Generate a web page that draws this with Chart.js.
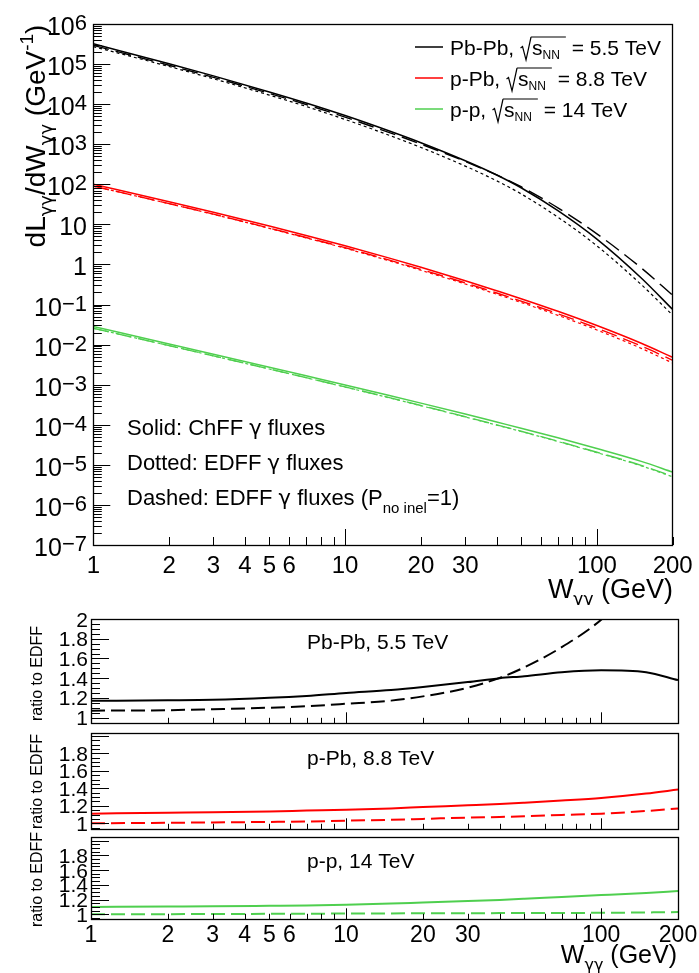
<!DOCTYPE html>
<html>
<head>
<meta charset="utf-8">
<script src="https://cdn.jsdelivr.net/npm/chart.js@4.4.0/dist/chart.umd.min.js"></script>
<style>
  body { margin: 0; background: #fff; }
  #wrap { position: relative; width: 699px; height: 973px; overflow: hidden; }
  canvas { position: absolute; left: 0; }
</style>
</head>
<body>
<div id="wrap">
  <canvas id="cMain" width="699" height="605" style="top:0px"></canvas>
  <canvas id="cPbPb" width="699" height="130" style="top:600px"></canvas>
  <canvas id="cpPb" width="699" height="106" style="top:727px"></canvas>
  <canvas id="cpp" width="699" height="141" style="top:832px"></canvas>
</div>
<script>
// ---- datos (W en GeV) ----
const W = [1, 2, 3, 5, 7, 10, 15, 20, 30, 40, 50, 70, 100, 150, 200];

// dL/dW (GeV^-1)
const pbpbChFF  = [3.2e5, 1.02e5, 5.07e4, 2.02e4, 1.07e4, 5.19e3, 2.13e3, 1090, 387, 171, 82, 22, 4.3, 0.46, 0.075];
const pbpbEDFF  = [2.735e5, 8.68e4, 4.30e4, 1.683e4, 8.77e3, 4.15e3, 1664, 832, 285, 122, 57.7, 15.1, 2.91, 0.315, 0.0543];
const pbpbEDFF1 = [2.93e5, 9.33e4, 4.67e4, 1.85e4, 9.78e3, 4.73e3, 1950, 1010, 371, 171, 87, 25.9, 5.8, 0.82, 0.17];

const ppbChFF  = [100, 36.7, 20.0, 9.06, 5.28, 2.93, 1.44, 0.85, 0.393, 0.221, 0.140, 0.0678, 0.0299, 0.0108, 0.0048];
const ppbEDFF  = [90.1, 32.8, 17.8, 7.98, 4.61, 2.54, 1.23, 0.717, 0.326, 0.181, 0.113, 0.0538, 0.0232, 0.00806, 0.00347];
const ppbEDFF1 = [90.1, 33.0, 18.0, 8.10, 4.70, 2.62, 1.28, 0.753, 0.347, 0.194, 0.122, 0.0589, 0.0258, 0.00919, 0.00406];

const ppChFF  = [0.0282, 0.0104, 5.78e-3, 2.74e-3, 1.67e-3, 9.87e-4, 5.37e-4, 3.47e-4, 1.85e-4, 1.17e-4, 8.22e-5, 4.72e-5, 2.55e-5, 1.22e-5, 6.6e-6];
const ppEDFF  = [0.0256, 9.41e-3, 5.22e-3, 2.46e-3, 1.49e-3, 8.73e-4, 4.69e-4, 2.99e-4, 1.57e-4, 9.79e-5, 6.79e-5, 3.82e-5, 2.02e-5, 9.46e-6, 5.02e-6];
const ppEDFF1 = [0.0256, 9.43e-3, 5.24e-3, 2.47e-3, 1.50e-3, 8.82e-4, 4.75e-4, 3.03e-4, 1.59e-4, 9.95e-5, 6.91e-5, 3.89e-5, 2.06e-5, 9.70e-6, 5.17e-6];

// cocientes respecto a EDFF
const pbpbRatioChFF  = [1.17, 1.175, 1.18, 1.20, 1.22, 1.25, 1.28, 1.31, 1.36, 1.40, 1.42, 1.46, 1.48, 1.46, 1.38];
const pbpbRatioEDFF1 = [1.07, 1.075, 1.085, 1.10, 1.115, 1.14, 1.172, 1.215, 1.303, 1.403, 1.51, 1.714, 1.993, 2.45, 3.0];
const ppbRatioChFF   = [1.11, 1.12, 1.125, 1.135, 1.145, 1.155, 1.17, 1.185, 1.205, 1.22, 1.235, 1.26, 1.29, 1.34, 1.385];
const ppbRatioEDFF1  = [1.00, 1.005, 1.01, 1.015, 1.02, 1.03, 1.04, 1.05, 1.065, 1.072, 1.08, 1.095, 1.11, 1.14, 1.17];
const ppRatioChFF    = [1.10, 1.105, 1.108, 1.115, 1.12, 1.13, 1.145, 1.16, 1.18, 1.195, 1.21, 1.235, 1.26, 1.29, 1.315];
const ppRatioEDFF1   = [1.00, 1.002, 1.004, 1.006, 1.008, 1.01, 1.012, 1.013, 1.015, 1.016, 1.017, 1.018, 1.02, 1.025, 1.03];

// ticks
const xMajorTicks = [1, 10, 100];
const xMinorTicks = [2, 3, 4, 5, 6, 7, 8, 9, 20, 30, 40, 50, 60, 70, 80, 90, 200];
const xTickLabels = [1, 2, 3, 4, 5, 6, 10, 20, 30, 100, 200];
const yExponents = [6, 5, 4, 3, 2, 1, 0, -1, -2, -3, -4, -5, -6, -7];
const ratioLabelsTop = [1, 1.2, 1.4, 1.6, 1.8, 2];
const ratioLabels = [1, 1.2, 1.4, 1.6, 1.8];

const FONT = '"Liberation Sans", Arial, Helvetica, sans-serif';
const GREEK = '"DejaVu Sans", "Liberation Sans", sans-serif';
const BLACK = '#000000', RED = '#ff0000', GREEN = '#4fcf4f';
const GG = '\u03b3\u03b3';

// texto con sub/superíndices
function drawRich(ctx, parts, x, y, align) {
    let w = 0;
    parts.forEach(p => {
        if (p.rad) { p.w = 12; }
        else if (p.gap) { p.w = p.gap; }
        else { ctx.font = p.s + 'px ' + (p.g ? GREEK : FONT); p.w = ctx.measureText(p.t).width; }
        w += p.w;
    });
    let cx = align === 'right' ? x - w : (align === 'center' ? x - w / 2 : x);
    let overStart = null, overEnd = null;
    parts.forEach(p => {
        if (p.rad) {
            ctx.beginPath();
            ctx.lineWidth = 1.2;
            ctx.moveTo(cx + 0.5, y - 7);
            ctx.lineTo(cx + 2.5, y - 8.5);
            ctx.lineTo(cx + 6, y + 5);
            ctx.lineTo(cx + 11, y - 18);
            ctx.stroke();
            overStart = cx + 11;
        } else if (!p.gap) {
            ctx.font = p.s + 'px ' + (p.g ? GREEK : FONT);
            ctx.fillText(p.t, cx, y + (p.dy || 0));
        }
        cx += p.w;
        if (p.over) overEnd = cx;
    });
    if (overStart !== null && overEnd !== null) {
        ctx.beginPath();
        ctx.moveTo(overStart, y - 18);
        ctx.lineTo(overEnd, y - 18);
        ctx.stroke();
    }
    return w;
}

// ejes estilo ROOT: marco, ticks hacia dentro, etiquetas
const rootAxes = {
    id: 'rootAxes',
    afterDatasetsDraw(chart, args, o) {
        const ctx = chart.ctx, a = chart.chartArea;
        const xs = chart.scales.x, ys = chart.scales.y;
        ctx.save();
        ctx.strokeStyle = '#000';
        ctx.fillStyle = '#000';
        ctx.lineWidth = 1;
        ctx.textBaseline = 'alphabetic';

        // ticks eje x
        ctx.beginPath();
        xMajorTicks.forEach(v => {
            const px = Math.round(xs.getPixelForValue(v)) + 0.5;
            ctx.moveTo(px, a.bottom); ctx.lineTo(px, a.bottom - o.xMajorLen);
        });
        xMinorTicks.forEach(v => {
            const px = Math.round(xs.getPixelForValue(v)) + 0.5;
            ctx.moveTo(px, a.bottom); ctx.lineTo(px, a.bottom - o.xMinorLen);
        });
        ctx.stroke();

        // ticks eje y
        ctx.beginPath();
        if (o.logY) {
            for (let e = -7; e <= 6; e++) {
                const py = Math.round(ys.getPixelForValue(Math.pow(10, e))) + 0.5;
                ctx.moveTo(a.left, py); ctx.lineTo(a.left + o.yMajorLen, py);
                if (e < 6) {
                    for (let m = 2; m <= 9; m++) {
                        const pm = Math.round(ys.getPixelForValue(m * Math.pow(10, e))) + 0.5;
                        ctx.moveTo(a.left, pm); ctx.lineTo(a.left + o.yMinorLen, pm);
                    }
                }
            }
        } else {
            for (let k = 0; k <= 44; k++) {
                const v = 0.9 + k * 0.05;
                if (v < ys.min - 1e-9 || v > ys.max + 1e-9) continue;
                const major = Math.abs(v * 5 - Math.round(v * 5)) < 1e-6;
                const py = Math.round(ys.getPixelForValue(v)) + 0.5;
                ctx.moveTo(a.left, py); ctx.lineTo(a.left + (major ? o.yMajorLen : o.yMinorLen), py);
            }
        }
        ctx.stroke();

        // marco
        ctx.lineWidth = 1.3;
        ctx.strokeRect(Math.round(a.left) + 0.5, Math.round(a.top) + 0.5,
            Math.round(a.right - a.left), Math.round(a.bottom - a.top));

        // etiquetas eje y
        if (o.logY) {
            yExponents.forEach(e => {
                const py = ys.getPixelForValue(Math.pow(10, e));
                let parts;
                if (e === 0) parts = [{ t: '1', s: 25 }];
                else if (e === 1) parts = [{ t: '10', s: 25 }];
                else parts = [{ t: '10', s: 25 }, { t: (e < 0 ? '\u2212' + (-e) : '' + e), s: 22, dy: -5 }];
                drawRich(ctx, parts, 87, py + 11, 'right');
            });
        } else {
            ctx.font = '21px ' + FONT;
            ctx.textAlign = 'right';
            o.yLabels.forEach(v => {
                ctx.fillText(String(v), 88, ys.getPixelForValue(v) + 7.5);
            });
            ctx.textAlign = 'left';
        }

        // etiquetas eje x
        if (o.xLabels) {
            ctx.font = o.xLabelSize + 'px ' + FONT;
            ctx.textAlign = 'center';
            xTickLabels.forEach(v => {
                ctx.fillText(String(v), xs.getPixelForValue(v), o.xLabelY);
            });
            ctx.textAlign = 'left';
        }

        // textos
        (o.texts || []).forEach(t => {
            ctx.save();
            ctx.translate(t.x, t.y);
            if (t.rot) ctx.rotate(-Math.PI / 2);
            drawRich(ctx, t.parts, 0, 0, t.align || 'left');
            ctx.restore();
        });

        // leyenda
        (o.legend || []).forEach(l => {
            ctx.beginPath();
            ctx.strokeStyle = l.color;
            ctx.lineWidth = 1.5;
            ctx.moveTo(415, l.y - 8); ctx.lineTo(443, l.y - 8);
            ctx.stroke();
            ctx.strokeStyle = '#000';
            drawRich(ctx, l.parts, 450, l.y, 'left');
        });
        ctx.restore();
    }
};

function serie(values, color, dash, width) {
    return {
        data: W.map((w, i) => ({ x: w, y: values[i] })),
        borderColor: color,
        borderWidth: width,
        borderDash: dash,
        pointRadius: 0,
        fill: false,
        cubicInterpolationMode: 'monotone'
    };
}

function crearGrafica(id, datasets, yScale, padding, axesOpts) {
    return new Chart(document.getElementById(id).getContext('2d'), {
        type: 'line',
        data: { datasets: datasets },
        options: {
            responsive: false,
            animation: false,
            devicePixelRatio: 1,
            layout: { padding: padding },
            scales: {
                x: { type: 'logarithmic', min: 1, max: 200, display: false },
                y: Object.assign({ display: false }, yScale)
            },
            plugins: {
                legend: { display: false },
                tooltip: { enabled: false },
                rootAxes: axesOpts
            }
        },
        plugins: [rootAxes]
    });
}

const DOT = [3, 3], DASH = [16, 7], RDASH = [14, 6];

// gráfica principal
crearGrafica('cMain', [
    serie(pbpbEDFF, BLACK, DOT, 1.2),
    serie(pbpbEDFF1, BLACK, DASH, 1.4),
    serie(pbpbChFF, BLACK, [], 1.5),
    serie(ppbEDFF, RED, DOT, 1.2),
    serie(ppbEDFF1, RED, DASH, 1.4),
    serie(ppbChFF, RED, [], 1.5),
    serie(ppEDFF, GREEN, DOT, 1.2),
    serie(ppEDFF1, GREEN, DASH, 1.4),
    serie(ppChFF, GREEN, [], 1.5)
], { type: 'logarithmic', min: 1e-7, max: 1e6 },
{ left: 93.3, right: 26.3, top: 24, bottom: 60 },
{
    logY: true, xMajorLen: 16, xMinorLen: 8, yMajorLen: 17, yMinorLen: 8.5,
    xLabels: true, xLabelSize: 24, xLabelY: 573,
    texts: [
        { x: 45, y: 136, rot: true, align: 'center', parts: [
            { t: 'dL', s: 28 }, { t: GG, s: 18, dy: 7, g: true }, { t: '/dW', s: 28 },
            { t: GG, s: 18, dy: 7, g: true }, { t: ' (GeV', s: 28 }, { t: '-1', s: 19, dy: -12 }, { t: ')', s: 28 }] },
        { x: 673, y: 598, align: 'right', parts: [
            { t: 'W', s: 27 }, { t: GG, s: 17, dy: 7, g: true }, { t: ' (GeV)', s: 27 }] },
        { x: 127, y: 435, parts: [{ t: 'Solid: ChFF ', s: 22 }, { t: '\u03b3', s: 21, g: true }, { t: ' fluxes', s: 22 }] },
        { x: 127, y: 470, parts: [{ t: 'Dotted: EDFF ', s: 22 }, { t: '\u03b3', s: 21, g: true }, { t: ' fluxes', s: 22 }] },
        { x: 127, y: 505, parts: [{ t: 'Dashed: EDFF ', s: 22 }, { t: '\u03b3', s: 21, g: true }, { t: ' fluxes (P', s: 22 },
            { t: 'no inel', s: 15, dy: 8 }, { t: '=1)', s: 22 }] }
    ],
    legend: [
        { y: 55, color: BLACK, parts: [{ t: 'Pb-Pb, ', s: 21 }, { rad: true }, { t: 's', s: 21, over: true },
            { t: 'NN', s: 12, dy: 4, over: true }, { gap: 6, over: true }, { t: ' = 5.5 TeV', s: 21 }] },
        { y: 86, color: RED, parts: [{ t: 'p-Pb, ', s: 21 }, { rad: true }, { t: 's', s: 21, over: true },
            { t: 'NN', s: 12, dy: 4, over: true }, { gap: 6, over: true }, { t: ' = 8.8 TeV', s: 21 }] },
        { y: 117, color: GREEN, parts: [{ t: 'p-p, ', s: 21 }, { rad: true }, { t: 's', s: 21, over: true },
            { t: 'NN', s: 12, dy: 4, over: true }, { gap: 6, over: true }, { t: ' = 14 TeV', s: 21 }] }
    ]
});

// paneles de cociente
crearGrafica('cPbPb', [
    serie(pbpbRatioEDFF1, BLACK, RDASH, 2),
    serie(pbpbRatioChFF, BLACK, [], 2)
], { type: 'linear', min: 0.942, max: 2.0 },
{ left: 91, right: 21, top: 19, bottom: 6.7 },
{
    logY: false, xMajorLen: 11, xMinorLen: 5.5, yMajorLen: 18, yMinorLen: 9,
    yLabels: ratioLabelsTop, xLabels: false,
    texts: [
        { x: 42, y: 73.5, rot: true, align: 'center', parts: [{ t: 'ratio to EDFF', s: 16 }] },
        { x: 307, y: 49, parts: [{ t: 'Pb-Pb, 5.5 TeV', s: 21 }] }
    ]
});

crearGrafica('cpPb', [
    serie(ppbRatioEDFF1, RED, RDASH, 2),
    serie(ppbRatioChFF, RED, [], 2)
], { type: 'linear', min: 0.931, max: 2.029 },
{ left: 91, right: 21, top: 6.3, bottom: 3.7 },
{
    logY: false, xMajorLen: 11, xMinorLen: 5.5, yMajorLen: 18, yMinorLen: 9,
    yLabels: ratioLabels, xLabels: false,
    texts: [
        { x: 42, y: 54.5, rot: true, align: 'center', parts: [{ t: 'ratio to EDFF', s: 16 }] },
        { x: 307, y: 38, parts: [{ t: 'p-Pb, 8.8 TeV', s: 21 }] }
    ]
});

crearGrafica('cpp', [
    serie(ppRatioEDFF1, GREEN, RDASH, 2),
    serie(ppRatioChFF, GREEN, [], 2)
], { type: 'linear', min: 0.932, max: 2.044 },
{ left: 91, right: 21, top: 5.3, bottom: 53.7 },
{
    logY: false, xMajorLen: 11, xMinorLen: 5.5, yMajorLen: 18, yMinorLen: 9,
    yLabels: ratioLabels, xLabels: true, xLabelSize: 23, xLabelY: 110,
    texts: [
        { x: 42, y: 47.5, rot: true, align: 'center', parts: [{ t: 'ratio to EDFF', s: 16 }] },
        { x: 307, y: 36, parts: [{ t: 'p-p, 14 TeV', s: 21 }] },
        { x: 677, y: 131, align: 'right', parts: [
            { t: 'W', s: 25 }, { t: GG, s: 16, dy: 7, g: true }, { t: ' (GeV)', s: 25 }] }
    ]
});
</script>
</body>
</html>
